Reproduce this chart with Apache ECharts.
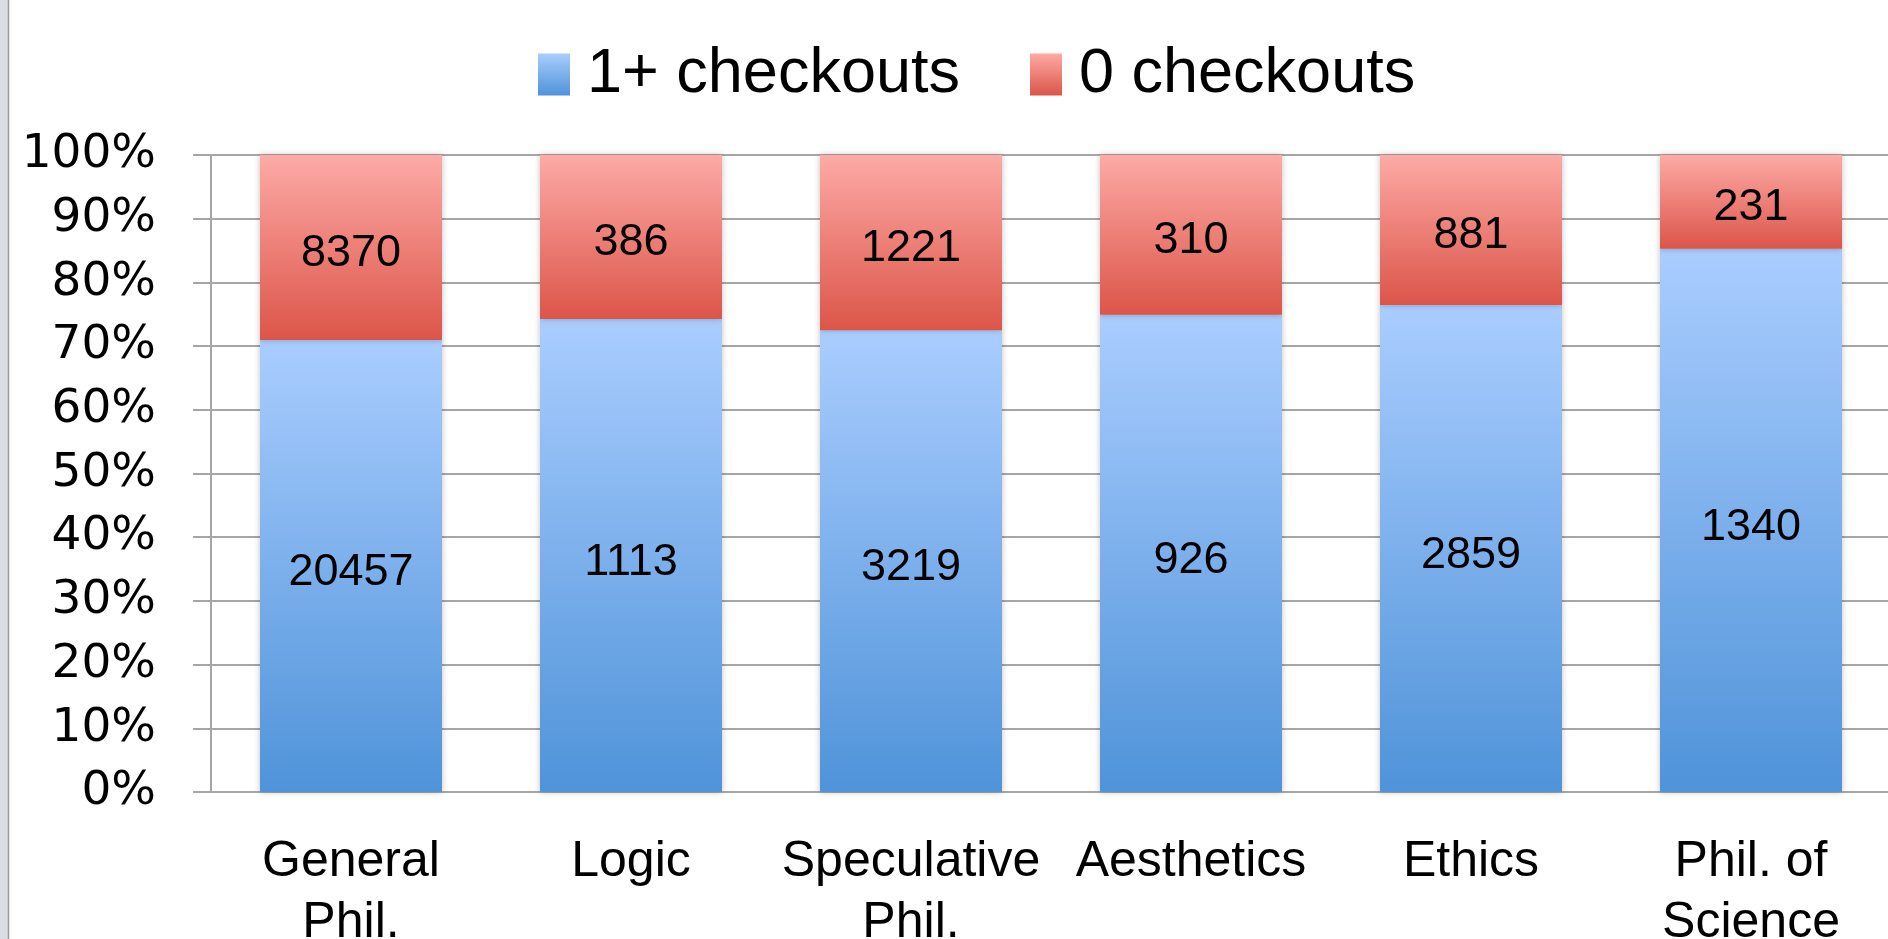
<!DOCTYPE html>
<html>
<head>
<meta charset="utf-8">
<script src="https://cdn.jsdelivr.net/npm/echarts@6/dist/echarts.min.js"></script>
<style>
html,body{margin:0;padding:0;background:#fff;}
#chart{width:1888px;height:939px;}
</style>
</head>
<body>
<div id="chart"></div>
<script>
var categories = ['General\nPhil.', 'Logic', 'Speculative\nPhil.', 'Aesthetics', 'Ethics', 'Phil. of\nScience'];
var checkedOut = [20457, 1113, 3219, 926, 2859, 1340];
var neverChecked = [8370, 386, 1221, 310, 881, 231];
var yTicks = [0, 10, 20, 30, 40, 50, 60, 70, 80, 90, 100];

function pct(a, b, i) { return a[i] / (a[i] + b[i]) * 100; }
var blueData = checkedOut.map(function (v, i) { return { value: pct(checkedOut, neverChecked, i), count: v }; });
var redData = neverChecked.map(function (v, i) { return { value: pct(neverChecked, checkedOut, i), count: v }; });

var chart = echarts.init(document.getElementById('chart'));
var gridColor = '#a6a6a6';
function labelStyle(dy) {
  return {
    show: true, position: 'inside', color: '#000', offset: [0, dy],
    fontFamily: 'Liberation Sans, Arial, sans-serif', fontSize: 45,
    formatter: function (p) { return p.data.count; }
  };
}
chart.setOption({
  animation: false,
  backgroundColor: '#fff',
  graphic: [
    { type: 'rect', left: 0, top: 0, shape: { width: 8, height: 939 }, style: { fill: '#dadee4' }, z: 100 },
    { type: 'line', shape: { x1: 8.5, y1: 0, x2: 8.5, y2: 939 }, style: { stroke: '#9a9a9a', lineWidth: 1.5 }, z: 100 }
  ],
  legend: {
    left: 538, top: 43, padding: 0, icon: 'rect',
    itemWidth: 32, itemHeight: 42, itemGap: 70,
    textStyle: { fontFamily: 'Liberation Sans, Arial, sans-serif', fontSize: 63, color: '#000', lineHeight: 63, padding: [0, 0, 0, 12] },
    data: ['1+ checkouts', '0 checkouts']
  },
  grid: { left: 211, right: -3, top: 155, bottom: 147, containLabel: false, outerBoundsMode: 'none' },
  xAxis: {
    type: 'category', data: categories,
    axisLine: { show: true, lineStyle: { color: gridColor, width: 2 } },
    axisTick: { show: false },
    axisLabel: {
      interval: 0, margin: 40, color: '#000', hideOverlap: false,
      fontFamily: 'Liberation Sans, Arial, sans-serif',
      fontSize: 50, lineHeight: 61
    }
  },
  yAxis: {
    type: 'value', min: 0, max: 100, interval: 10,
    axisLine: { show: true, lineStyle: { color: gridColor, width: 2 } },
    axisTick: { show: true, length: 18, lineStyle: { color: gridColor, width: 2 } },
    splitLine: { show: true, lineStyle: { color: gridColor, width: 2 } },
    axisLabel: {
      margin: 55, color: '#000',
      fontFamily: 'DejaVu Sans, sans-serif', fontSize: 47,
      formatter: function (v) { return yTicks.indexOf(v) >= 0 ? v + '%' : ''; }
    }
  },
  series: [
    {
      name: '1+ checkouts', type: 'bar', stack: 'all', barWidth: '65%',
      data: blueData,
      itemStyle: {
        color: new echarts.graphic.LinearGradient(0, 0, 0, 1, [
          { offset: 0, color: '#aacdff' }, { offset: 1, color: '#4f93d9' }
        ]),
        shadowBlur: 6, shadowColor: 'rgba(0,0,0,0.25)'
      },
      label: labelStyle(7)
    },
    {
      name: '0 checkouts', type: 'bar', stack: 'all', barWidth: '65%',
      data: redData,
      itemStyle: {
        color: new echarts.graphic.LinearGradient(0, 0, 0, 1, [
          { offset: 0, color: '#fdaaa6' }, { offset: 1, color: '#dc5549' }
        ]),
        shadowBlur: 6, shadowColor: 'rgba(0,0,0,0.25)'
      },
      label: labelStyle(6)
    }
  ]
});
</script>
</body>
</html>
